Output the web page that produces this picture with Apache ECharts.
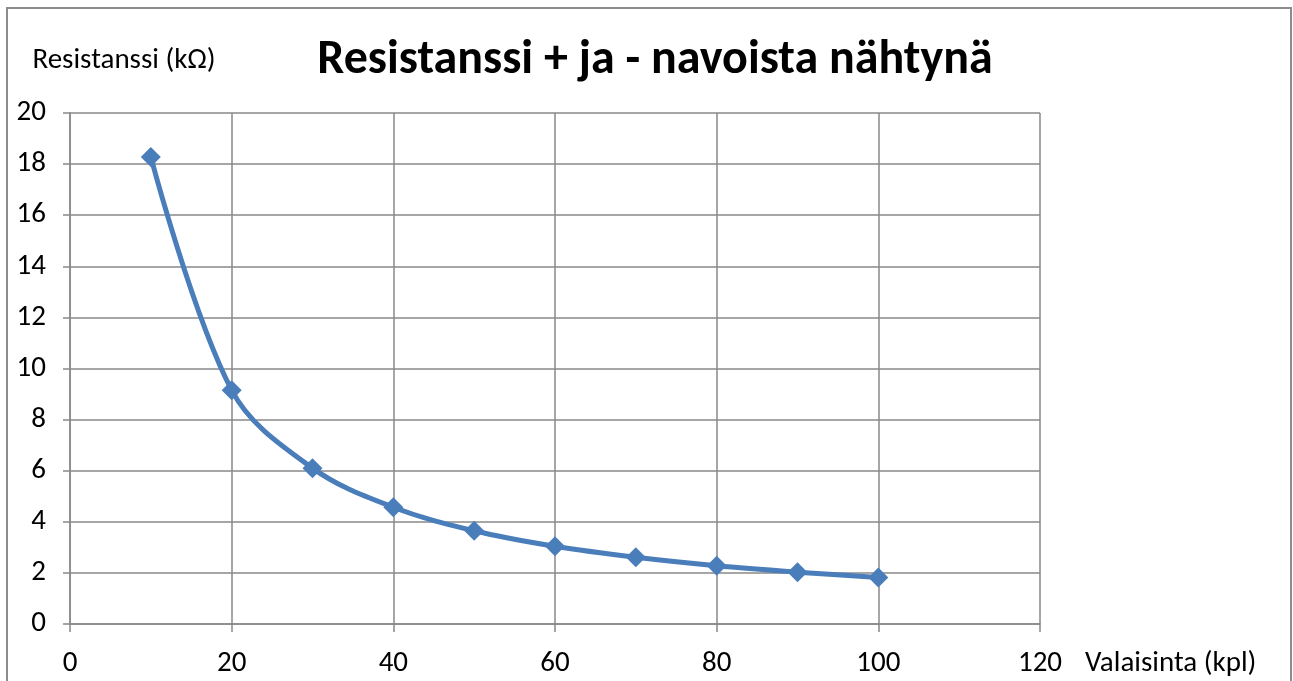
<!DOCTYPE html>
<html>
<head>
<meta charset="utf-8">
<script src="https://cdn.jsdelivr.net/npm/echarts@6/dist/echarts.min.js"></script>
<style>
html,body{margin:0;padding:0;background:#fff;}
#chart{width:1293px;height:681px;}
</style>
</head>
<body>
<div id="chart"></div>
<script>
const titleText = 'Resistanssi + ja - navoista nähtynä';
const xAxisName = 'Valaisinta (kpl)';
const yAxisName = 'Resistanssi (kΩ)';
const xValues = [10, 20, 30, 40, 50, 60, 70, 80, 90, 100];
const resistance = [18.28, 9.15, 6.1, 4.57, 3.65, 3.04, 2.61, 2.28, 2.03, 1.82];

const FONT = 'Carlito, Lato, "Open Sans", sans-serif';
const chart = echarts.init(document.getElementById('chart'), null, {renderer: 'canvas'});
chart.setOption({
  animation: false,
  backgroundColor: '#ffffff',
  title: {
    text: titleText,
    left: 650,
    textAlign: 'center',
    top: 32,
    textStyle: {fontFamily: FONT, fontSize: 48, fontWeight: 'bold', color: '#000'}
  },
  graphic: [{
    type: 'rect',
    shape: {x: 7, y: 8, width: 1284, height: 690},
    style: {fill: 'none', stroke: '#8c8c8c', lineWidth: 2},
    silent: true
  }],
  grid: {left: 70, right: 253, top: 113, bottom: 57, containLabel: false, outerBoundsMode: 'none'},
  xAxis: {
    type: 'value',
    min: 0, max: 120, interval: 20,
    name: xAxisName,
    nameLocation: 'end',
    nameGap: 45,
    nameTextStyle: {fontFamily: FONT, fontSize: 29, color: '#000', verticalAlign: 'top', lineHeight: 80},
    axisLine: {show: true, lineStyle: {color: '#888', width: 1.5}},
    axisTick: {show: true, length: 8, lineStyle: {color: '#888', width: 1.5}},
    axisLabel: {fontFamily: FONT, fontSize: 29, color: '#000', margin: 25},
    splitLine: {show: true, lineStyle: {color: '#888', width: 1.5}}
  },
  yAxis: {
    type: 'value',
    min: 0, max: 20, interval: 2,
    name: yAxisName,
    nameLocation: 'end',
    nameGap: 38,
    nameTextStyle: {fontFamily: FONT, fontSize: 29, color: '#000', align: 'center', padding: [0, 0, 0, 108]},
    axisLine: {show: true, lineStyle: {color: '#888', width: 1.5}},
    axisTick: {show: true, length: 7, lineStyle: {color: '#888', width: 1.5}},
    axisLabel: {fontFamily: FONT, fontSize: 29, color: '#000', margin: 24},
    splitLine: {show: true, lineStyle: {color: '#888', width: 1.5}}
  },
  series: [{
    type: 'line',
    data: xValues.map((x, i) => [x, resistance[i]]),
    smooth: 0.35,
    symbol: 'diamond',
    symbolSize: 20,
    itemStyle: {color: '#4a7ebb'},
    lineStyle: {color: '#4a7ebb', width: 5}
  }]
});
</script>
</body>
</html>
